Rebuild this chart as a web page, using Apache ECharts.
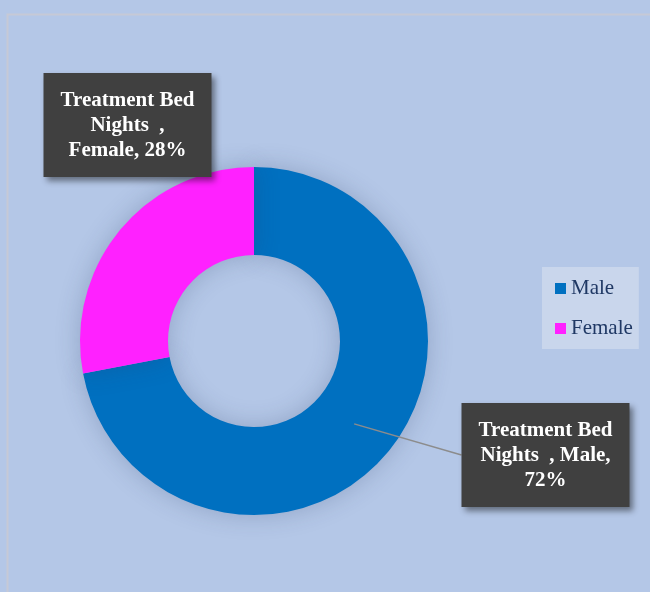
<!DOCTYPE html>
<html><head><meta charset="utf-8">
<script src="https://cdn.jsdelivr.net/npm/echarts@6/dist/echarts.min.js"></script>
<style>html,body{margin:0;padding:0;background:#b4c7e7}#c{width:650px;height:592px}</style>
</head><body><div id="c"></div>
<script>
const seriesName = 'Treatment Bed Nights  ';
const categories = ['Male', 'Female'];
const values = [72, 28];
const colors = ['#0070c0', '#ff21ff'];

const CX = 254, CY = 341, R0 = 86, R1 = 174;
// label box centre-x and top-y
const labelPos = { Male: [545.5, 403], Female: [127.5, 73] };
const LABEL_FONT = 'bold 21px "Liberation Serif"';
const WRAP_W = 142;

const ctx = document.createElement('canvas').getContext('2d');
ctx.font = LABEL_FONT;
function wrap(text) {
  const tokens = text.split(' ');
  const lines = [];
  let line = tokens[0];
  for (let i = 1; i < tokens.length; i++) {
    const cand = line + ' ' + tokens[i];
    if (ctx.measureText(cand.trimEnd()).width <= WRAP_W) line = cand;
    else { lines.push(line.trimEnd()); line = tokens[i]; }
  }
  lines.push(line.trimEnd());
  return lines.join('\n');
}

const chart = echarts.init(document.getElementById('c'));

chart.setOption({
  backgroundColor: '#b4c7e7',
  animation: false,
  graphic: [{
    type: 'polyline', silent: true,
    shape: { points: [[7.5, 600], [7.5, 14.5], [660, 14.5]] },
    style: { stroke: '#c6c9d6', lineWidth: 2, fill: null }
  }],
  legend: {
    orient: 'vertical', left: 542, top: 267,
    backgroundColor: '#c9d6ec', padding: [11, 6, 10, 13],
    itemWidth: 11, itemHeight: 11, itemGap: 19, icon: 'rect',
    textStyle: { fontFamily: 'Liberation Serif', fontSize: 21, color: '#1f3864' },
    data: categories
  },
  series: [{
    type: 'pie', name: seriesName, z: 2,
    center: [CX, CY], radius: [R0, R1],
    startAngle: 90, clockwise: true,
    itemStyle: { shadowBlur: 25, shadowColor: 'rgba(40,60,100,0.25)' },
    emphasis: { disabled: true },
    label: { show: false }, labelLine: { show: false },
    data: categories.map((c, i) => ({ name: c, value: values[i], itemStyle: { color: colors[i] } }))
  }, {
    type: 'pie', name: seriesName, z: 5, silent: true,
    center: [CX, CY], radius: [R0, R1],
    startAngle: 90, clockwise: true,
    itemStyle: { color: 'rgba(0,0,0,0)' },
    emphasis: { disabled: true },
    label: {
      show: true, position: 'outside',
      formatter: p => wrap(p.seriesName + ', ' + p.name + ', ' + p.percent + '%'),
      fontFamily: 'Liberation Serif', fontWeight: 'bold', fontSize: 21, color: '#ffffff',
      lineHeight: 25, width: 150, align: 'center',
      backgroundColor: '#404040', padding: [15, 9, 14, 9],
      shadowColor: 'rgba(0,0,0,0.45)', shadowBlur: 6, shadowOffsetX: 3, shadowOffsetY: 4
    },
    labelLine: { show: true, lineStyle: { color: '#8c8c8c', width: 1.5 } },
    labelLayout: function (params) {
      const name = categories[params.dataIndex];
      const pos = labelPos[name];
      const out = { x: pos[0], y: pos[1], align: 'center', verticalAlign: 'top' };
      if (params.labelLinePoints) {
        const p0 = params.labelLinePoints[0];
        const k = (R0 + R1) / 2 / R1;
        const start = [CX + (p0[0] - CX) * k, CY + (p0[1] - CY) * k];
        const w = params.labelRect.width, h = params.labelRect.height;
        out.labelLinePoints = [start, [pos[0] - w / 2, pos[1] + h / 2]];
      }
      return out;
    },
    data: categories.map((c, i) => ({
      name: c, value: values[i],
      labelLine: { show: c === 'Male' }
    }))
  }]
});
</script></body></html>
